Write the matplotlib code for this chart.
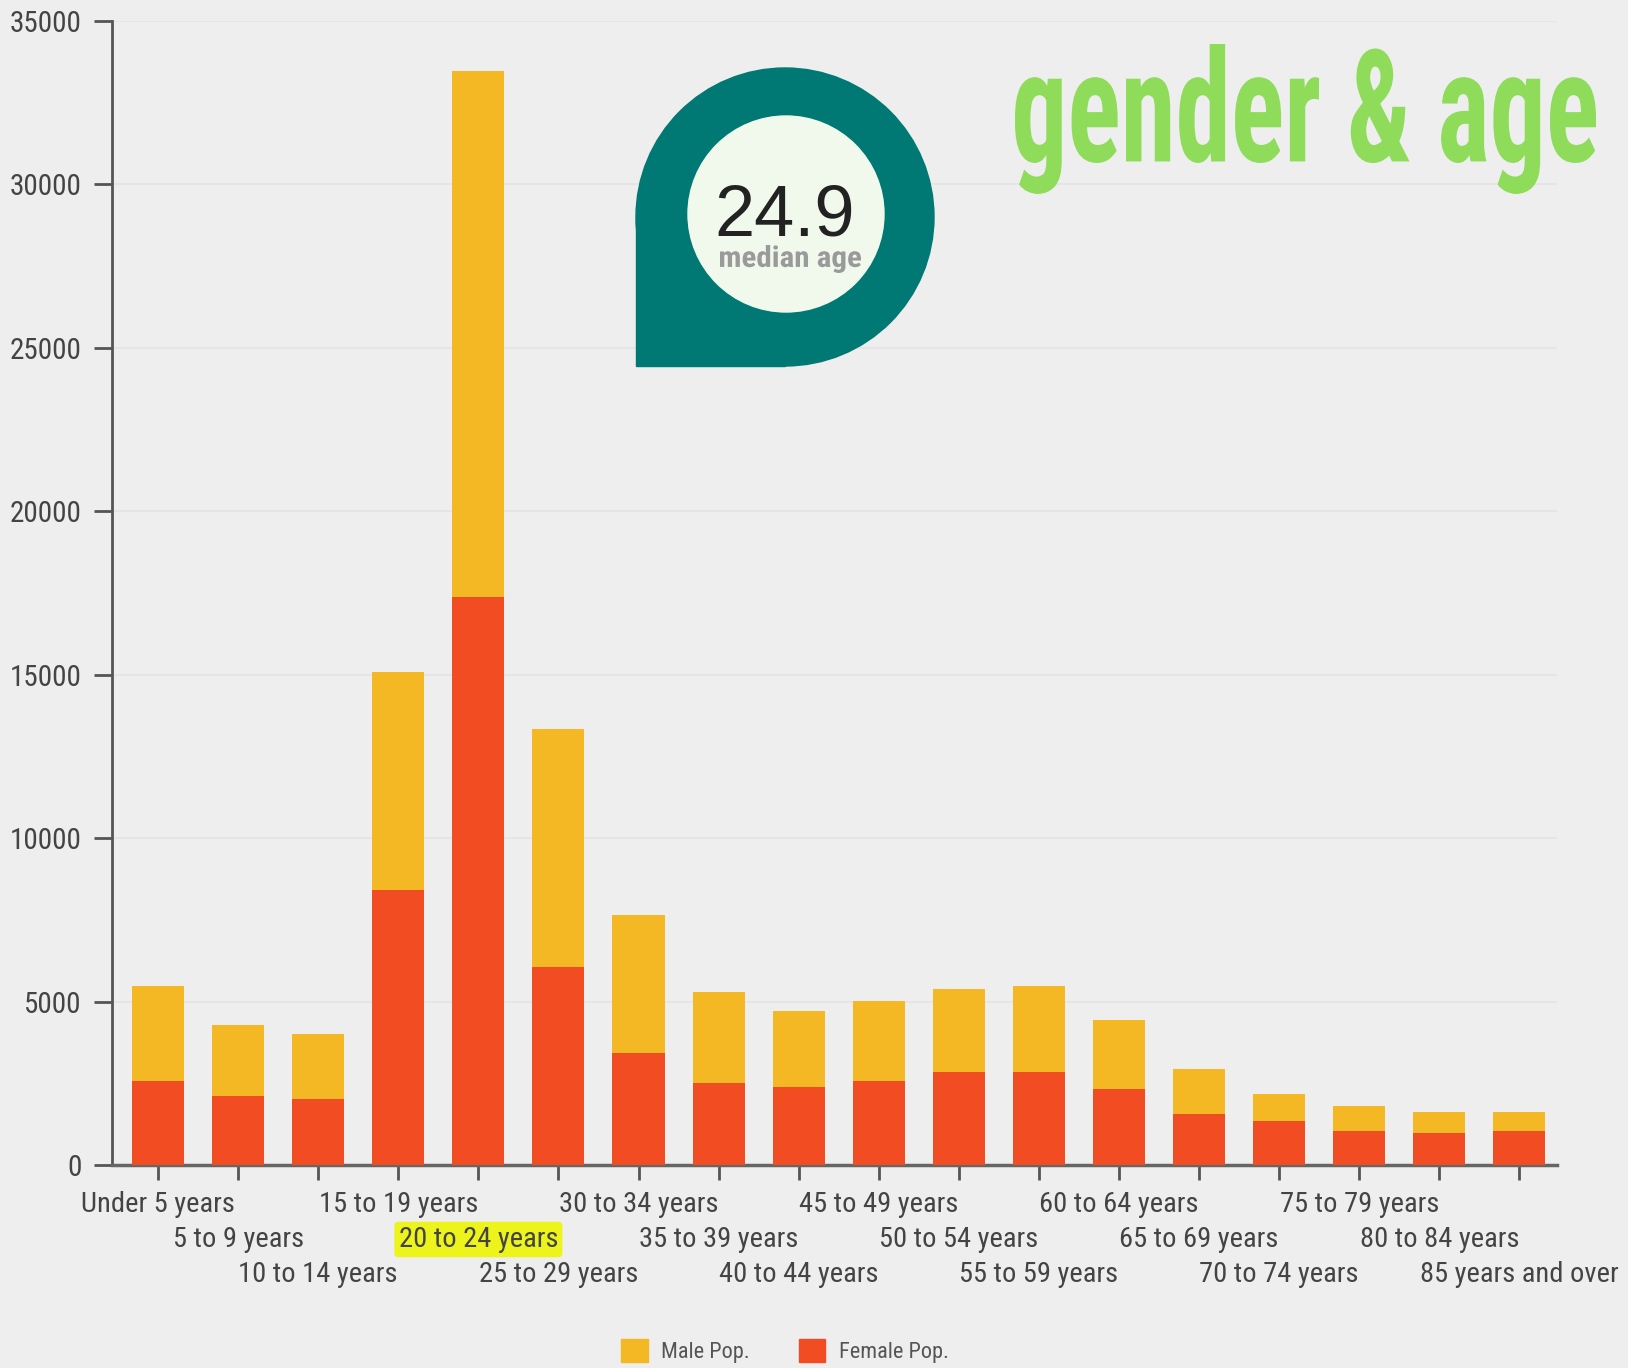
import matplotlib
matplotlib.use('Agg')
import numpy as np
from matplotlib import pyplot as plt
from matplotlib import font_manager
from matplotlib.font_manager import FontProperties
from matplotlib.patches import Circle, Rectangle, PathPatch, Patch
from matplotlib.textpath import TextPath
from matplotlib.transforms import Affine2D


age_groups = ['Under 5 years', '5 to 9 years', '10 to 14 years', '15 to 19 years',
              '20 to 24 years', '25 to 29 years', '30 to 34 years', '35 to 39 years',
              '40 to 44 years', '45 to 49 years', '50 to 54 years', '55 to 59 years',
              '60 to 64 years', '65 to 69 years', '70 to 74 years', '75 to 79 years',
              '80 to 84 years', '85 years and over']
female_pop = [2580, 2100, 2010, 8410, 17390, 6050, 3440, 2520, 2390,
              2580, 2840, 2840, 2330, 1560, 1340, 1050, 990, 1050]
male_pop = [2900, 2170, 2000, 6660, 16080, 7300, 4200, 2770, 2320,
            2450, 2540, 2640, 2100, 1370, 830, 770, 630, 570]
y_ticks = [0, 5000, 10000, 15000, 20000, 25000, 30000, 35000]
highlight_group = '20 to 24 years'
median_age = '24.9'

W, H = 1628, 1368
BG = '#eeeeee'
YELLOW = '#f4b825'
RED = '#f24d22'
TEAL = '#007874'
GREEN = '#8fdc5a'
TEXT = '#444444'


def pick_family(candidates):
    names = {f.name for f in font_manager.fontManager.ttflist}
    for name in candidates:
        if name in names:
            return name
    return 'DejaVu Sans'


NARROW = pick_family(['Liberation Sans Narrow', 'Roboto Condensed', 'Roboto', 'DejaVu Sans'])
REGULAR = pick_family(['Liberation Sans', 'Roboto', 'DejaVu Sans'])


def squeezed_text(axes, text, box, color, weight='bold'):
    """
    Draws text stretched into a pixel box (x0, y0, x1, y1) on an inverted-y axes.
    """
    path = TextPath((0, 0), text, size=100, prop=FontProperties(family=NARROW, weight=weight))
    ext = path.get_extents()
    sx = (box[2] - box[0]) / ext.width
    sy = (box[3] - box[1]) / ext.height
    tr = Affine2D().translate(-ext.x0, -ext.y1).scale(sx, -sy).translate(box[0], box[1])
    axes.add_patch(PathPatch(tr.transform_path(path), facecolor=color, edgecolor='none'))


fig = plt.figure(figsize=(W / 100, H / 100), dpi=100, facecolor=BG)
ax = fig.add_axes([112 / W, 1 - 1165 / H, (1557 - 112) / W, (1165 - 21) / H])
ax.set_facecolor(BG)

x = np.arange(len(age_groups))
ax.bar(x, female_pop, width=0.65, color=RED, zorder=3)
ax.bar(x, male_pop, width=0.65, bottom=female_pop, color=YELLOW, zorder=3)

ax.set_xlim(-0.575, 17.47)
ax.set_ylim(0, 35000)
for side in ('top', 'right'):
    ax.spines[side].set_visible(False)
ax.spines['left'].set_color('#555555')
ax.spines['left'].set_linewidth(2)
ax.spines['bottom'].set_color('#666666')
ax.spines['bottom'].set_linewidth(2.5)

ax.set_yticks(y_ticks)
ax.tick_params(axis='y', length=13, width=2, color='#555555', pad=9,
               labelsize=21, labelcolor=TEXT)
for label in ax.get_yticklabels():
    label.set_fontfamily(NARROW)
ax.set_xticks(x)
ax.set_xticklabels([''] * len(x))
ax.tick_params(axis='x', length=11, width=2, color='#555555')
ax.yaxis.grid(True, color='#e4e4e4', linewidth=1.2)
ax.set_axisbelow(True)

# staggered category labels, three rows
for i, name in enumerate(age_groups):
    row = i % 3
    box = None
    if name == highlight_group:
        box = dict(boxstyle='round,pad=0.15', facecolor='#ecf41c', edgecolor='none')
    ax.annotate(name, xy=(i, 0), xycoords=('data', 'axes fraction'),
                xytext=(0, -(39 + 35.5 * row)), textcoords='offset pixels',
                ha='center', va='center', fontsize=20.5, family=NARROW,
                color=TEXT, bbox=box, annotation_clip=False)

fig.legend(handles=[Patch(color=YELLOW, label='Male Pop.'),
                    Patch(color=RED, label='Female Pop.')],
           loc='upper center', bbox_to_anchor=(0.482, 0.036), ncol=2, frameon=False,
           handlelength=1.2, handleheight=1.2, columnspacing=2.2,
           handletextpad=0.6, labelcolor='#555555', prop={'family': NARROW, 'size': 16})

# overlay in pixel coordinates for the badge and the heading
ov = fig.add_axes([0, 0, 1, 1])
ov.set_xlim(0, W)
ov.set_ylim(H, 0)
ov.axis('off')
ov.patch.set_alpha(0)
ov.add_patch(Circle((785, 217), 149, color=TEAL))
ov.add_patch(Rectangle((636, 217), 149, 149, color=TEAL))
ov.add_patch(Circle((786, 214), 98, color='#f0f9ec'))
ov.text(785, 236, median_age, ha='center', va='baseline', fontsize=52,
        family=REGULAR, color='#222222')
squeezed_text(ov, 'median age', (720, 245, 861, 273), '#9a9a9a')
squeezed_text(ov, 'gender & age', (1015, 44, 1596, 194), GREEN)

fig.savefig('out.png', dpi=100, facecolor=BG)
